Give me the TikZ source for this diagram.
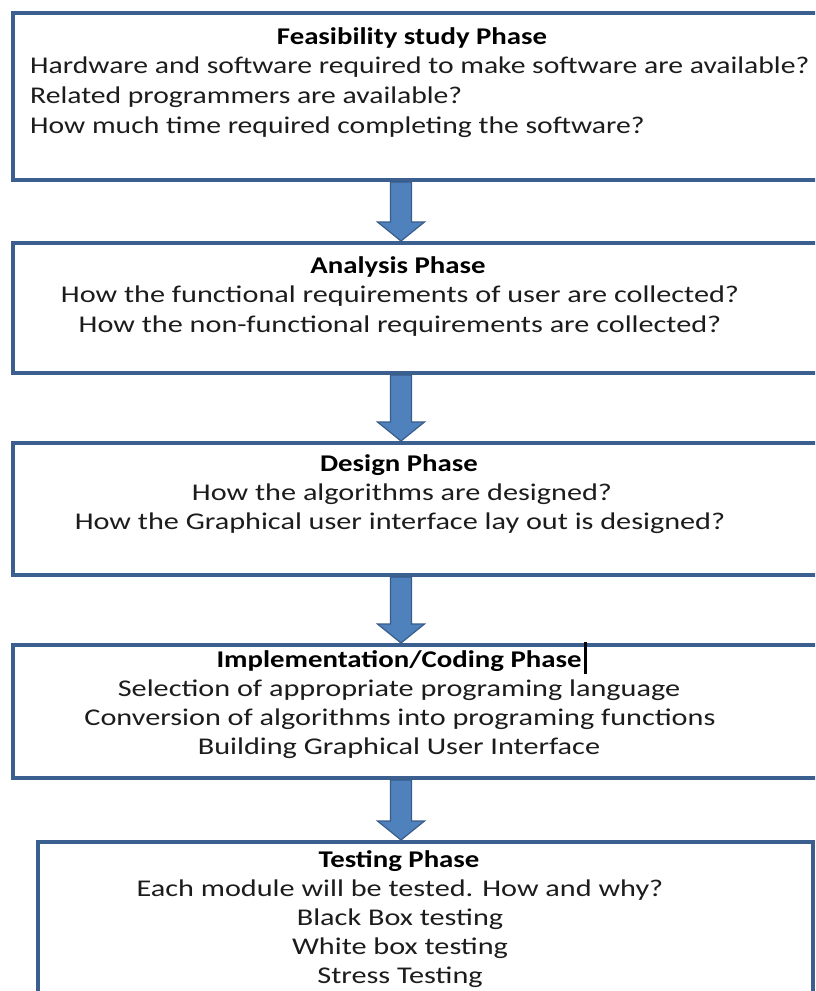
\documentclass[tikz,border=0pt]{standalone}
\usepackage{fontspec}
\setmainfont{Carlito}[FakeStretch=1.2]
\newfontfamily\phasebodyfont{Carlito}[FakeStretch=1.26]
\newfontfamily\phaseleftfont{Carlito}[FakeStretch=1.235]
\usetikzlibrary{calc}
\definecolor{boxblue}{HTML}{3B5F8F}
\definecolor{arrowfill}{HTML}{4F81BD}
\definecolor{arrowline}{HTML}{385D8A}
\definecolor{txt}{HTML}{1C1C1C}
\tikzset{
  phasebox/.style={draw=boxblue, line width=4pt, rectangle, inner sep=0pt, outer sep=0pt, fill=none},
  title/.style={font=\fontsize{24}{29}\selectfont\bfseries, text=black, inner sep=0pt, anchor=base},
  body/.style={font=\phasebodyfont\fontsize{24}{29}\selectfont, text=txt, inner sep=0pt, anchor=base},
  bodyl/.style={font=\phaseleftfont\fontsize{24}{29}\selectfont, text=txt, inner sep=0pt, anchor=base west},
  fatarrow/.style={fill=arrowfill, draw=arrowline, line width=1.2pt, line join=miter}
}
\newcommand\fatarrow[2]{%
  \draw[fatarrow] ([xshift=-10.5pt]#1) -- ([xshift=-10.5pt,yshift=19pt]#2) -- ([xshift=-23.5pt,yshift=19pt]#2) -- (#2) -- ([xshift=23.5pt,yshift=19pt]#2) -- ([xshift=10.5pt,yshift=19pt]#2) -- ([xshift=10.5pt]#1) -- cycle;}
\begin{document}
\begin{tikzpicture}[x=1pt,y=-1pt]
\useasboundingbox (0,0) rectangle (815,991);
\clip (0,0) rectangle (815,991);
\fill[white] (0,0) rectangle (815,991);
\coordinate (ax) at (401,0);
% boxes
\node[phasebox, minimum width=827pt, minimum height=167pt] (b1) at (426.5,96.5) {};
\node[phasebox, minimum width=827pt, minimum height=130pt] (b2) at (426.5,308) {};
\node[phasebox, minimum width=827pt, minimum height=132pt] (b3) at (426.5,509) {};
\node[phasebox, minimum width=827pt, minimum height=133pt] (b4) at (426.5,711.5) {};
\node[phasebox, minimum width=775pt, minimum height=170pt] (b5) at (425.5,927) {};
% arrow end points
\coordinate (s1) at ($(b1.south -| ax)+(0,2)$);
\coordinate (e1) at ($(b2.north -| ax)+(0,-2)$);
\coordinate (s2) at ($(b2.south -| ax)+(0,2)$);
\coordinate (e2) at ($(b3.north -| ax)+(0,-2)$);
\coordinate (s3) at ($(b3.south -| ax)+(0,2)$);
\coordinate (e3) at ($(b4.north -| ax)+(0,-2)$);
\coordinate (s4) at ($(b4.south -| ax)+(0,2)$);
\coordinate (e4) at ($(b5.north -| ax)+(0,-2)$);
% arrows
\fatarrow{s1}{e1}
\fatarrow{s2}{e2}
\fatarrow{s3}{e3}
\fatarrow{s4}{e4}
% box 1
\node[title] (t1) at (412,44) {Feasibility study Phase};
\node[bodyl] (t1a) at (30,73) {Hardware and software required to make software are available?};
\node[bodyl] (t1b) at (30,103) {Related programmers are available?};
\node[bodyl] (t1c) at (30,133) {How much time required completing the software?};
% box 2
\node[title] (t2) at (398,273) {Analysis Phase};
\node[body] (t2a) at (400,302) {How the functional requirements of user are collected?};
\node[body] (t2b) at (400,332) {How the non-functional requirements are collected?};
% box 3
\node[title] (t3) at (399,471) {Design Phase};
\node[body] (t3a) at (402,500) {How the algorithms are designed?};
\node[body] (t3b) at (400,529) {How the Graphical user interface lay out is designed?};
% box 4
\node[title] (t4) at (399,667) {Implementation/Coding Phase};
\draw[line width=2.5pt, black] ([xshift=4pt,yshift=8pt]t4.north east) -- ([xshift=4pt,yshift=-7pt]t4.base east);
\node[body] (t4a) at (399,696) {Selection of appropriate programing language};
\node[body] (t4b) at (400,725) {Conversion of algorithms into programing functions};
\node[body] (t4c) at (399,754) {Building Graphical User Interface};
% box 5
\node[title] (t5) at (399,867) {Testing Phase};
\node[body] (t5a) at (400,896) {Each module will be tested. How and why?};
\node[body] (t5b) at (400,925) {Black Box testing};
\node[body] (t5c) at (400,954) {White box testing};
\node[body] (t5d) at (400,983) {Stress Testing};
\end{tikzpicture}
\end{document}
